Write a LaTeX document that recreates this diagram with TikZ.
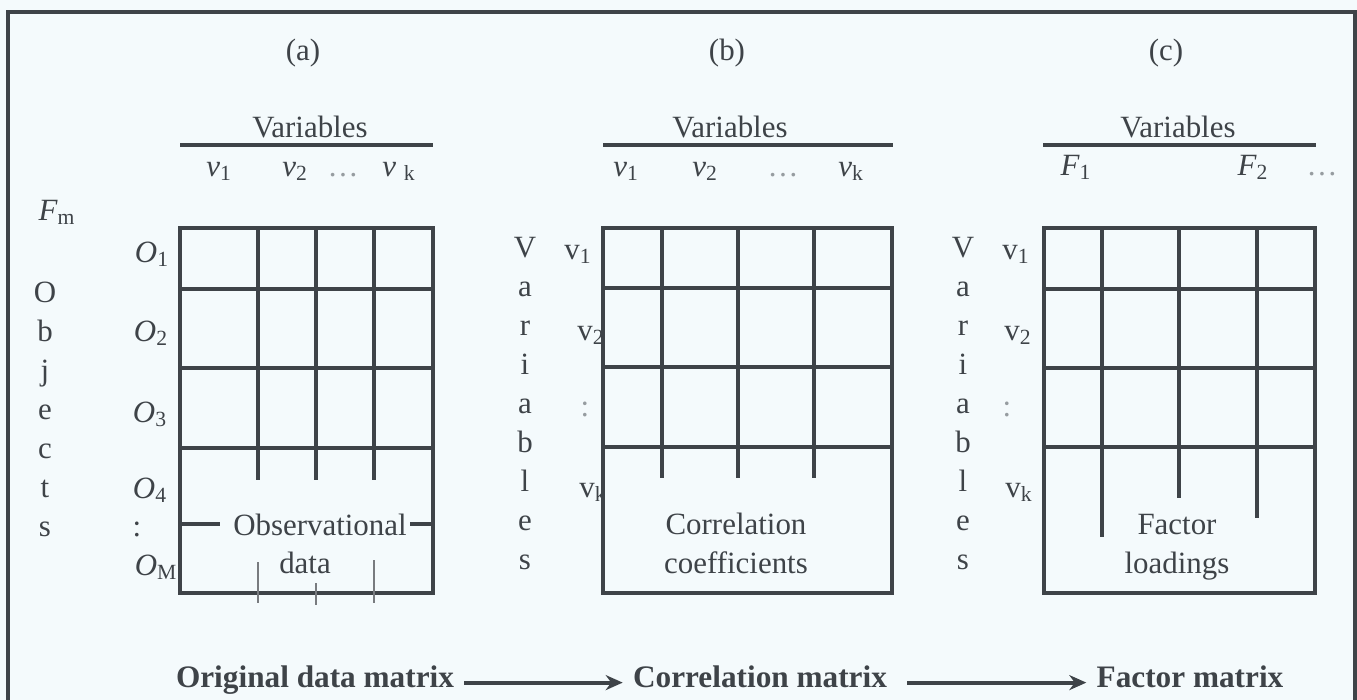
\documentclass[tikz,border=0pt]{standalone}
\usepackage{fontspec}
\setmainfont{Liberation Serif}
\usetikzlibrary{arrows.meta}

\definecolor{bgc}{RGB}{244,250,252}
\definecolor{ink}{RGB}{62,67,72}
\definecolor{dim}{RGB}{150,156,160}
\newcommand{\itsub}[2]{\textit{#1}\textsubscript{#2}}

\begin{document}
\begin{tikzpicture}[
    x=0.02cm, y=-0.02cm,
    lab/.style={font=\fontsize{17.6}{22.2}\selectfont, text=ink, inner sep=0pt, anchor=base},
    col/.style={lab, align=center, anchor=north},
    grid/.style={draw=ink, line width=1.9pt},
    tick/.style={draw=ink!70, line width=1pt},
    stage/.style={font=\fontsize{17.8}{21}\selectfont\bfseries, text=ink, inner sep=0.2cm, text height=0.7em, text depth=0.2em},
    ar/.style={-{Stealth[length=0.34cm, width=0.3cm]}, draw=ink, line width=2.4pt}
]
\fill[bgc] (0,0) rectangle (1357,700);
\useasboundingbox (0,0) rectangle (1357,700);
\draw[grid] (8,700) |- (1355,12) -- (1355,700);

% captions and headers
\node[lab] (capa) at (303,60) {(a)};
\node[lab] (capb) at (727,60) {(b)};
\node[lab] (capc) at (1166,60) {(c)};
\node[lab] (vara) at (310,137) {Variables};
\node[lab] (varb) at (730,137) {Variables};
\node[lab] (varc) at (1178,137) {Variables};
\draw[grid] (180,145) -- (433,145) (603,145) -- (893,145) (1043,145) -- (1316,145);

\node[lab] (a1) at (219,176) {\itsub{v}{1}};
\node[lab] (a2) at (295,176) {\itsub{v}{2}};
\node[lab, text=dim] (adots) at (343,176) {\dots};
\node[lab] (ak) at (399,176) {\textit{v} \textsubscript{k}};
\node[lab] (b1) at (626,176) {\itsub{v}{1}};
\node[lab] (b2) at (705,176) {\itsub{v}{2}};
\node[lab, text=dim] (bdots) at (783,176) {\dots};
\node[lab] (bk) at (851,176) {\itsub{v}{k}};
\node[lab] (c1) at (1076,175) {\itsub{F}{1}};
\node[lab] (c2) at (1253,175) {\itsub{F}{2}};
\node[lab, text=dim] (cdots) at (1322,175) {\dots};

\node[lab] (fm) at (57,220) {\itsub{F}{m}};

% row labels
\node[col] (obj) at (45,282) {O\\b\\j\\e\\c\\t\\s};
\node[lab] (o1) at (152,262) {\itsub{O}{1}};
\node[lab] (o2) at (151,341) {\itsub{O}{2}};
\node[lab] (o3) at (150,422) {\itsub{O}{3}};
\node[lab] (o4) at (150,498) {\itsub{O}{4}};
\node[lab] (odots) at (137,536) {:};
\node[lab] (om) at (156,575) {\itsub{O}{M}};

\node[col] (varcolb) at (525,237) {V\\a\\r\\i\\a\\b\\l\\e\\s};
\node[lab] (rb1) at (578,259) {v\textsubscript{1}};
\node[lab] (rb2) at (591,340) {v\textsubscript{2}};
\node[lab, text=dim] (rbdots) at (585,416) {:};
\node[lab] (rbk) at (593,497) {v\textsubscript{k}};

\node[col] (varcolc) at (963,237) {V\\a\\r\\i\\a\\b\\l\\e\\s};
\node[lab] (rc1) at (1016,259) {v\textsubscript{1}};
\node[lab] (rc2) at (1018,340) {v\textsubscript{2}};
\node[lab, text=dim] (rcdots) at (1007,416) {:};
\node[lab] (rck) at (1019,497) {v\textsubscript{k}};

% matrix (a)
\draw[grid, fill=bgc] (180,228) rectangle (433,593);
\draw[grid] (180,289) -- (433,289) (180,368) -- (433,368) (180,448) -- (433,448)
  (258,228) -- (258,480) (316,228) -- (316,480) (374,228) -- (374,480)
  (180,524) -- (220,524) (410,524) -- (433,524);
\draw[tick] (258,562) -- (258,603) (316,583) -- (316,605) (374,560) -- (374,603);
\node[lab] (obs) at (320,535) {Observational};
\node[lab] (obsd) at (305,573) {data};

% matrix (b)
\draw[grid, fill=bgc] (603,228) rectangle (892,593);
\draw[grid] (603,288) -- (892,288) (603,367) -- (892,367) (603,447) -- (892,447)
  (662,228) -- (662,478) (738,228) -- (738,478) (814,228) -- (814,478);
\node[col] (corcoef) at (736,513) {Correlation\\coefficients};

% matrix (c)
\draw[grid, fill=bgc] (1044,228) rectangle (1315,593);
\draw[grid] (1044,289) -- (1315,289) (1044,368) -- (1315,368) (1044,447) -- (1315,447)
  (1102,228) -- (1102,537) (1179,228) -- (1179,498) (1257,228) -- (1257,518);
\node[col] (facload) at (1177,514) {Factor\\loadings};

% stages
\node[stage, anchor=base] (orig) at (315,687) {Original data matrix};
\node[stage, anchor=base] (corr) at (760,687) {Correlation matrix};
\node[stage, anchor=base] (fact) at (1190,687) {Factor matrix};
\draw[ar] (orig) -- (corr);
\draw[ar, shorten <=0.2cm] (corr) -- (fact);
\end{tikzpicture}
\end{document}
